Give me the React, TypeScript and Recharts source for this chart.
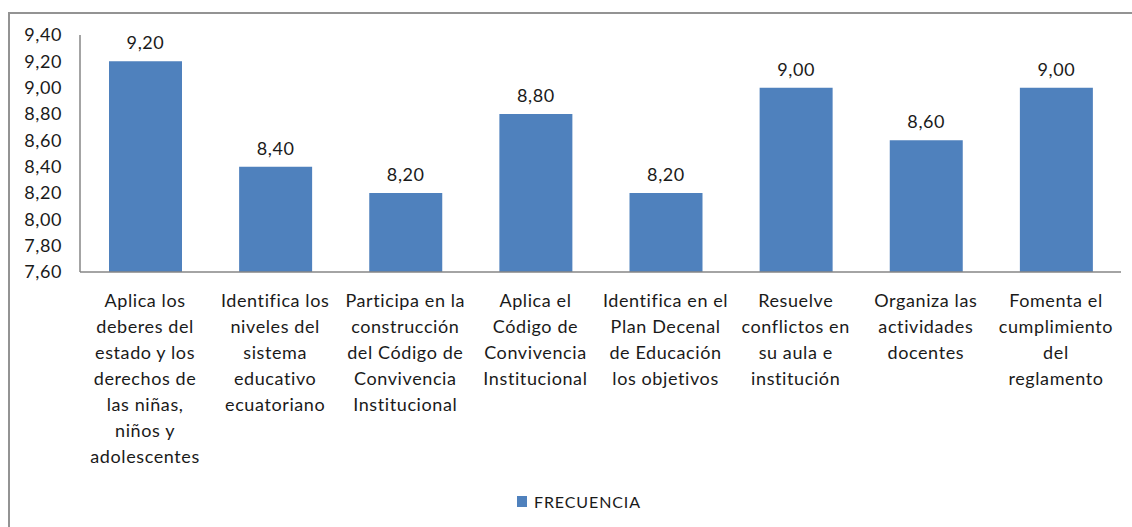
import React from "react";
import { BarChart, Bar, XAxis, YAxis, Legend, LabelList } from "recharts";

const categories = [
  "Aplica los\ndeberes del\nestado y los\nderechos de\nlas niñas,\nniños y\nadolescentes",
  "Identifica los\nniveles del\nsistema\neducativo\necuatoriano",
  "Participa en la\nconstrucción\ndel Código de\nConvivencia\nInstitucional",
  "Aplica el\nCódigo de\nConvivencia\nInstitucional",
  "Identifica en el\nPlan Decenal\nde Educación\nlos objetivos",
  "Resuelve\nconflictos en\nsu aula e\ninstitución",
  "Organiza las\nactividades\ndocentes",
  "Fomenta el\ncumplimiento\ndel\nreglamento",
];

const frecuencia = [9.2, 8.4, 8.2, 8.8, 8.2, 9.0, 8.6, 9.0];

const yTicks = [7.6, 7.8, 8.0, 8.2, 8.4, 8.6, 8.8, 9.0, 9.2, 9.4];

const data = categories.map((name, i) => ({ name, FRECUENCIA: frecuencia[i] }));

const FONT = "Lato, 'Open Sans', sans-serif";
const TEXT = "#1a1a1a";
const BLUE = "#4f81bd";
const SPACING = 0.6;

const fmt = (v: number) => v.toFixed(2).replace(".", ",");

function CategoryTick({ x, y, payload }: any) {
  const lines = String(payload.value).split("\n");
  return (
    <text
      x={x}
      y={y + 35}
      textAnchor="middle"
      fill={TEXT}
      fontSize={18}
      fontFamily={FONT}
      letterSpacing={SPACING}
    >
      {lines.map((line, i) => (
        <tspan key={i} x={x} dy={i === 0 ? 0 : 26}>
          {line}
        </tspan>
      ))}
    </text>
  );
}

function LegendContent() {
  return (
    <div
      style={{
        display: "flex",
        alignItems: "center",
        justifyContent: "center",
        fontFamily: FONT,
        fontSize: 16,
        color: TEXT,
        letterSpacing: 0.9,
      }}
    >
      <span
        style={{
          display: "inline-block",
          width: 10,
          height: 11,
          background: BLUE,
          marginRight: 7,
        }}
      />
      FRECUENCIA
    </div>
  );
}

export default function App() {
  return (
    <div
      style={{
        position: "fixed",
        left: 0,
        top: 0,
        width: 1132,
        height: 527,
        overflow: "hidden",
        background: "#fff",
      }}
    >
      <div
        style={{
          position: "absolute",
          left: 8,
          top: 12,
          width: 1200,
          height: 600,
          border: "2px solid #939393",
        }}
      />
      <div style={{ position: "absolute", left: 0, top: 0 }}>
        <BarChart
          width={1132}
          height={527}
          data={data}
          margin={{ top: 35, right: 11, left: 0, bottom: 55 }}
          barSize={73}
        >
          <XAxis
            dataKey="name"
            interval={0}
            height={200}
            tickSize={0}
            tickMargin={0}
            tick={<CategoryTick />}
            axisLine={{ stroke: "#868686", strokeWidth: 1.5 }}
            tickLine={false}
          />
          <YAxis
            domain={[7.6, 9.4]}
            ticks={yTicks}
            width={80}
            tickSize={0}
            tickMargin={18}
            tickFormatter={fmt}
            tick={{ fill: TEXT, fontSize: 18, fontFamily: FONT, letterSpacing: SPACING }}
            axisLine={{ stroke: "#868686", strokeWidth: 1.5 }}
            tickLine={false}
            interval={0}
          />
          <Legend
            layout="horizontal"
            verticalAlign="middle"
            align="center"
            content={<LegendContent />}
            wrapperStyle={{ top: 492, left: 13, width: 1132 }}
          />
          <Bar dataKey="FRECUENCIA" fill={BLUE} isAnimationActive={false}>
            <LabelList
              dataKey="FRECUENCIA"
              position="top"
              offset={12}
              formatter={(v: any) => fmt(Number(v))}
              fill={TEXT}
              fontSize={18}
              fontFamily={FONT}
              letterSpacing={SPACING}
            />
          </Bar>
        </BarChart>
      </div>
    </div>
  );
}
